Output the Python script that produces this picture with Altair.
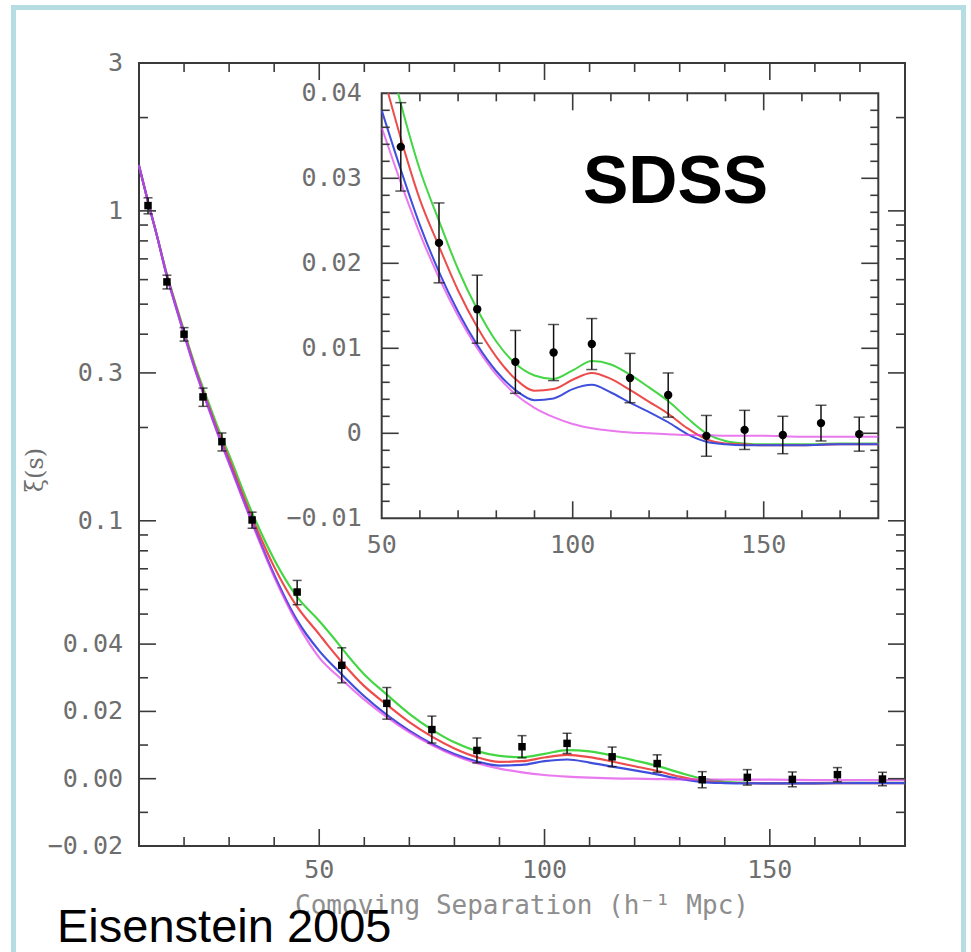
import math
import altair as alt
import pandas as pd

# ---------------- data ----------------
pt_x = [12, 16.2, 20, 24.2, 28.4, 35.1, 45.1, 55, 65, 75, 85, 95, 105, 115, 125, 135, 145, 155, 165, 175]
pt_xi = [1.04, 0.59, 0.40, 0.251, 0.180, 0.1006, 0.0589, 0.0337, 0.0224, 0.0146, 0.0084, 0.0095,
         0.0105, 0.0065, 0.0045, -0.0003, 0.0004, -0.0002, 0.0012, -0.0001]
pt_err = [0.062, 0.030, 0.020, 0.017, 0.012, 0.006, 0.0053, 0.0052, 0.0047, 0.0040, 0.0037, 0.0033,
          0.0030, 0.0029, 0.0026, 0.0024, 0.0023, 0.0022, 0.0021, 0.0020]

grid_x = [10, 12, 14, 16, 18, 20, 22.5, 25, 27.5, 30, 35, 40, 45, 50, 55, 60, 65, 70, 75, 80, 85, 90,
          95, 100, 105, 110, 115, 120, 125, 130, 135, 140, 145, 150, 160, 170, 180]

green_x = [10, 12, 14, 16, 18, 20, 22.5, 25, 27.5, 30, 35, 40, 45, 50, 54.3, 55, 60, 65, 70, 75, 80, 85, 90,
           95, 100, 105, 110, 115, 120, 125, 130, 135, 140, 145, 150, 160, 170, 180]
green_xi = [1.40, 1.07, 0.83, 0.64, 0.51, 0.41, 0.315, 0.25, 0.20, 0.163, 0.107, 0.075, 0.057, 0.0475, 0.040,
            0.0388, 0.031, 0.0250, 0.0193, 0.0146, 0.0108, 0.0082, 0.0068, 0.0064, 0.0074, 0.0085, 0.0081,
            0.0069, 0.0054, 0.0038, 0.0018, 0.0000, -0.0009, -0.0012, -0.0013, -0.0013, -0.0012, -0.0012]

red_x = [10, 12, 14, 16, 18, 20, 22.5, 25, 27.5, 30, 35, 40, 45, 50, 51.7, 55, 60, 65, 70, 75, 80, 85, 90,
         95, 100, 105, 110, 115, 120, 125, 130, 135, 140, 145, 150, 160, 170, 180]
red_xi = [1.40, 1.07, 0.83, 0.635, 0.505, 0.405, 0.31, 0.245, 0.195, 0.158, 0.103, 0.071, 0.053, 0.043, 0.040,
          0.0347, 0.0275, 0.0220, 0.0168, 0.0125, 0.0090, 0.0064, 0.0050, 0.0052, 0.0063, 0.0071, 0.0064,
          0.0051, 0.0037, 0.0023, 0.0006, -0.0007, -0.0012, -0.0013, -0.0014, -0.0014, -0.0013, -0.0013]

blue_x = grid_x
blue_xi = [1.40, 1.07, 0.83, 0.63, 0.50, 0.40, 0.306, 0.241, 0.191, 0.154, 0.100, 0.067, 0.048, 0.038,
           0.031, 0.0245, 0.0190, 0.0143, 0.0104, 0.0073, 0.0051, 0.0039, 0.0041, 0.0052, 0.0057, 0.0048,
           0.0036, 0.0025, 0.0013, -0.0001, -0.0010, -0.0013, -0.0014, -0.0014, -0.0014, -0.0013, -0.0013]

magenta_x = grid_x
magenta_xi = [1.40, 1.07, 0.83, 0.63, 0.50, 0.40, 0.305, 0.240, 0.190, 0.153, 0.099, 0.066, 0.047, 0.036,
              0.0295, 0.0235, 0.0183, 0.0138, 0.0100, 0.0069, 0.0046, 0.0030, 0.0019, 0.0011, 0.0006, 0.0003,
              0.0001, 0.0000, -0.0001, -0.0002, -0.0002, -0.0003, -0.0003, -0.0003, -0.0004, -0.0004, -0.0004]

series = [
    ("green", green_x, green_xi, "#44d644", 1.0),
    ("red", red_x, red_xi, "#ee4c4c", 1.0),
    ("blue", blue_x, blue_xi, "#3f4fdc", 1.0),
    ("magenta", magenta_x, magenta_xi, "#e040e8", 0.7),
]

main_y_major = [0, 0.02, 0.04, 0.1, 0.3, 1]
main_y_minor = [-0.01, 0.01, 0.03, 0.05, 0.06, 0.07, 0.08, 0.09, 0.2, 0.4, 0.5, 0.6, 0.7, 0.8, 0.9, 2]
main_y_labels = [3, 1, 0.3, 0.1, 0.04, 0.02, 0.0, -0.02]
main_y_texts = ["3", "1", "0.3", "0.1", "0.04", "0.02", "0.00", "\u22120.02"]
main_x_major = [50, 100, 150]
main_x_minor = [20, 30, 40, 60, 70, 80, 90, 110, 120, 130, 140, 160, 170]
main_x_texts = ["50", "100", "150"]

ins_y_major = [0, 0.01, 0.02, 0.03]
ins_y_minor = [-0.008, -0.006, -0.004, -0.002, 0.002, 0.004, 0.006, 0.008, 0.012, 0.014, 0.016, 0.018,
               0.022, 0.024, 0.026, 0.028, 0.032, 0.034, 0.036, 0.038]
ins_y_labels = [0.04, 0.03, 0.02, 0.01, 0, -0.01]
ins_y_texts = ["0.04", "0.03", "0.02", "0.01", "0", "\u22120.01"]
ins_x_major = [100, 150]
ins_x_minor = [60, 70, 80, 90, 110, 120, 130, 140, 160, 170]
ins_x_labels = [50, 100, 150]

# ---------------- scales ----------------
SWITCH = 0.04


def t_expr(f):
    return f"datum.{f} <= {SWITCH} ? datum.{f} : {SWITCH} * (1 + log(datum.{f} / {SWITCH}))"


T_TOP = SWITCH * (1 + math.log(3 / SWITCH))
W, H = 766, 783
XM = alt.Scale(domain=[10, 180], nice=False, zero=False)
YM = alt.Scale(domain=[-0.02, T_TOP], nice=False, zero=False)
XI = alt.Scale(domain=[50, 180], range=[242.7, 739.3], nice=False, zero=False)
YI = alt.Scale(domain=[-0.01, 0.04], range=[455.3, 30.3], nice=False, zero=False)

FRAME = "#3a3a3a"
LABEL_C = "#6e6e6e"
MONO = "DejaVu Sans Mono"

layers = []

one = pd.DataFrame({"a": [0]})

# outer light-blue border
layers.append(
    alt.Chart(one).mark_rect(fill=None, stroke="#b6dde2", strokeWidth=5).encode(
        x=alt.value(-125.5), x2=alt.value(824.5), y=alt.value(-55.5), y2=alt.value(900)
    )
)


def xq(field, sc):
    return alt.X(field, scale=sc, axis=None)


def yq(field, sc):
    return alt.Y(field, scale=sc, axis=None)


def xd(v, sc):
    return alt.XDatum(v, scale=sc, axis=None, type="quantitative")


def yd(v, sc):
    return alt.YDatum(v, scale=sc, axis=None, type="quantitative")


def yticks(vals, xs, ys, xpos, length, transform):
    c = alt.Chart(pd.DataFrame({"v": vals})).mark_rule(color=FRAME, strokeWidth=1.6, x2Offset=length)
    if transform:
        c = c.transform_calculate(t=t_expr("v"))
        f = "t:Q"
    else:
        f = "v:Q"
    return c.encode(y=yq(f, ys), x=xd(xpos, xs), x2=alt.X2Datum(xpos))


def xticks(vals, xs, ys, ypos, length):
    return alt.Chart(pd.DataFrame({"v": vals})).mark_rule(color=FRAME, strokeWidth=1.6, y2Offset=length).encode(
        x=xq("v:Q", xs), y=yd(ypos, ys), y2=alt.Y2Datum(ypos)
    )


# ---------------- main panel ----------------
for name, sx, sy, col, op in series:
    df = pd.DataFrame({"x": sx, "xi": sy})
    layers.append(
        alt.Chart(df).mark_line(color=col, strokeWidth=2.2, interpolate="monotone", opacity=op)
        .transform_calculate(t=t_expr("xi"))
        .encode(x=xq("x:Q", XM), y=yq("t:Q", YM))
    )

pts = pd.DataFrame({"x": pt_x, "xi": pt_xi, "err": pt_err})
pts_base = alt.Chart(pts).transform_calculate(lo="datum.xi - datum.err", hi="datum.xi + datum.err") \
    .transform_calculate(t=t_expr("xi"), tlo=t_expr("lo"), thi=t_expr("hi"))
layers.append(pts_base.mark_rule(color="#111", strokeWidth=1.5).encode(
    x=xq("x:Q", XM), y=yq("tlo:Q", YM), y2="thi:Q"))
layers.append(pts_base.mark_tick(color="#111", orient="horizontal", size=9, thickness=1.5).encode(
    x=xq("x:Q", XM), y=yq("tlo:Q", YM)))
layers.append(pts_base.mark_tick(color="#111", orient="horizontal", size=9, thickness=1.5).encode(
    x=xq("x:Q", XM), y=yq("thi:Q", YM)))
layers.append(pts_base.mark_square(color="#000", size=56, opacity=1).encode(
    x=xq("x:Q", XM), y=yq("t:Q", YM)))

# main ticks
layers.append(yticks(main_y_major, XM, YM, 10, 17, True))
layers.append(yticks(main_y_minor, XM, YM, 10, 9, True))
layers.append(yticks(main_y_major, XM, YM, 180, -17, True))
layers.append(yticks(main_y_minor, XM, YM, 180, -9, True))
layers.append(xticks(main_x_major, XM, YM, -0.02, -17))
layers.append(xticks(main_x_minor, XM, YM, -0.02, -9))
layers.append(xticks(main_x_major, XM, YM, T_TOP, 17))
layers.append(xticks(main_x_minor, XM, YM, T_TOP, 9))

# main tick labels
layers.append(
    alt.Chart(pd.DataFrame({"v": main_y_labels, "lab": main_y_texts}))
    .transform_calculate(t=t_expr("v"))
    .mark_text(align="right", baseline="middle", dx=-16, font=MONO, fontSize=25, color=LABEL_C)
    .encode(y=yq("t:Q", YM), x=xd(10, XM), text="lab:N")
)
layers.append(
    alt.Chart(pd.DataFrame({"v": main_x_major, "lab": main_x_texts}))
    .mark_text(align="center", baseline="middle", dy=24, font=MONO, fontSize=25, color=LABEL_C)
    .encode(x=xq("v:Q", XM), y=yd(-0.02, YM), text="lab:N")
)

# ---------------- inset panel ----------------
layers.append(
    alt.Chart(one).mark_rect(fill="white", stroke=FRAME, strokeWidth=2).encode(
        x=xd(50, XI), x2=alt.X2Datum(180), y=yd(-0.01, YI), y2=alt.Y2Datum(0.04)
    )
)
for name, sx, sy, col, op in series:
    df = pd.DataFrame({"x": sx, "xi": sy})
    layers.append(
        alt.Chart(df).transform_filter("datum.x >= 50 && datum.xi <= 0.04001")
        .mark_line(color=col, strokeWidth=2.0, interpolate="monotone", opacity=op)
        .encode(x=xq("x:Q", XI), y=yq("xi:Q", YI))
    )

ins_base = alt.Chart(pts).transform_filter("datum.x >= 50") \
    .transform_calculate(lo="datum.xi - datum.err", hi="datum.xi + datum.err")
layers.append(ins_base.mark_rule(color="#111", strokeWidth=1.5).encode(
    x=xq("x:Q", XI), y=yq("lo:Q", YI), y2="hi:Q"))
layers.append(ins_base.mark_tick(color="#111", orient="horizontal", size=11, thickness=1.5).encode(
    x=xq("x:Q", XI), y=yq("lo:Q", YI)))
layers.append(ins_base.mark_tick(color="#111", orient="horizontal", size=11, thickness=1.5).encode(
    x=xq("x:Q", XI), y=yq("hi:Q", YI)))
layers.append(ins_base.mark_circle(color="#000", size=70, opacity=1).encode(
    x=xq("x:Q", XI), y=yq("xi:Q", YI)))

layers.append(yticks(ins_y_major, XI, YI, 50, 17, False))
layers.append(yticks(ins_y_minor, XI, YI, 50, 8, False))
layers.append(yticks(ins_y_major, XI, YI, 180, -17, False))
layers.append(yticks(ins_y_minor, XI, YI, 180, -8, False))
layers.append(xticks(ins_x_major, XI, YI, -0.01, -17))
layers.append(xticks(ins_x_minor, XI, YI, -0.01, -8))
layers.append(xticks(ins_x_major, XI, YI, 0.04, 17))
layers.append(xticks(ins_x_minor, XI, YI, 0.04, 8))

layers.append(
    alt.Chart(pd.DataFrame({"v": ins_y_labels, "lab": ins_y_texts}))
    .mark_text(align="right", baseline="middle", dx=-20, font=MONO, fontSize=25, color=LABEL_C)
    .encode(y=yq("v:Q", YI), x=xd(50, XI), text="lab:N")
)
layers.append(
    alt.Chart(pd.DataFrame({"v": ins_x_labels, "lab": [str(v) for v in ins_x_labels]}))
    .mark_text(align="center", baseline="middle", dy=27, font=MONO, fontSize=25, color=LABEL_C)
    .encode(x=xq("v:Q", XI), y=yd(-0.01, YI), text="lab:N")
)

# ---------------- texts ----------------
layers.append(
    alt.Chart(one).mark_text(text="SDSS", align="left", baseline="alphabetic", font="Liberation Sans",
                             fontWeight="bold", fontSize=68, color="#000")
    .encode(x=alt.value(444), y=alt.value(140))
)
layers.append(
    alt.Chart(one).mark_text(text="Comoving Separation (h\u207b\u00b9 Mpc)", align="center", baseline="middle",
                             font=MONO, fontSize=26, color="#8e8e8e")
    .encode(x=alt.value(383), y=alt.value(843))
)
layers.append(
    alt.Chart(one).mark_text(text="\u03be(s)", align="center", baseline="middle", angle=270,
                             font="DejaVu Serif", fontSize=24, color=LABEL_C)
    .encode(x=alt.value(-103), y=alt.value(407))
)
layers.append(
    alt.Chart(one).mark_text(text="Eisenstein 2005", align="left", baseline="alphabetic",
                             font="Liberation Sans", fontSize=47, color="#000")
    .encode(x=alt.value(-82), y=alt.value(879))
)

chart = alt.layer(*layers).resolve_scale(x="independent", y="independent").properties(
    width=W, height=H,
    padding={"left": 139, "top": 63, "right": 66, "bottom": 106},
    autosize=alt.AutoSizeParams(type="none"),
    background="white",
).configure_view(stroke=FRAME, strokeWidth=2)

chart.save("out.html", embed_options={"renderer": "svg", "actions": False})
